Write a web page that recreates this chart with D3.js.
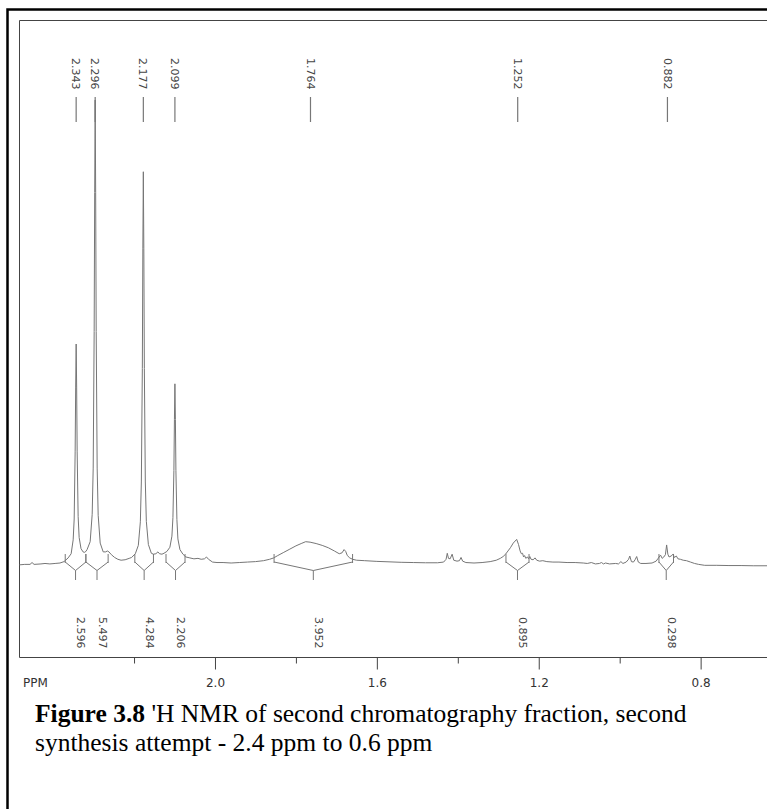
<!DOCTYPE html>
<html>
<head>
<meta charset="utf-8">
<script src="https://cdn.jsdelivr.net/npm/d3@7"></script>
<style>
  body { margin: 0; background: #fff; }
  svg { display: block; }
</style>
</head>
<body>
<div id="nmr-chart"></div>
<script>
// spectrum trace: [ppm, intensity]
var spectrum = [
  [2.483,-0.4],[2.470,-0.3],[2.457,-0.3],[2.452,0.1],[2.447,-0.3],[2.430,-0.2],[2.420,-0.1],
  [2.408,-0.2],[2.395,-0.1],[2.383,0.0],[2.373,0.3],[2.3628,1.1],[2.3554,2.0],[2.3504,5.0],
  [2.3479,9.5],[2.3455,24],[2.3442,38],[2.343,47.3],[2.3418,38],[2.3405,24],[2.3381,10],
  [2.3356,5.5],[2.331,3.1],[2.326,2.4],[2.3225,2.3],[2.319,2.5],[2.316,2.9],[2.3084,4.6],
  [2.3034,10.5],[2.3009,20.5],[2.2985,50],[2.2972,80],[2.296,100],[2.2948,80],[2.2935,50],
  [2.2911,20.5],[2.2886,10.3],[2.2836,4.3],[2.2762,2.4],[2.270,2.4],[2.266,2.6],[2.262,2.4],
  [2.256,1.8],[2.248,1.2],[2.240,0.8],[2.232,0.6],[2.222,0.7],[2.212,1.0],[2.206,1.2],
  [2.1968,2.0],[2.1894,3.8],[2.1844,8.9],[2.1819,17.5],[2.1795,42],[2.1782,68],[2.177,84.5],
  [2.1758,68],[2.1745,42],[2.1721,17.5],[2.1696,9],[2.1646,4],[2.1572,2.1],[2.152,1.9],
  [2.146,2.0],[2.141,2.4],[2.137,2.0],[2.131,1.9],[2.126,2.1],[2.1188,2.5],[2.1114,3.4],
  [2.1064,5.8],[2.1039,9.8],[2.1015,20],[2.1002,31],[2.099,38.7],[2.0978,31],[2.0965,20],
  [2.0941,9.4],[2.0916,5.2],[2.0866,2.9],[2.0792,1.9],[2.072,1.3],[2.062,1.1],[2.052,0.9],
  [2.042,1.0],[2.034,0.8],[2.026,0.9],[2.021,1.3],[2.016,0.8],[2.006,0.2],[1.995,0.1],
  [1.980,0.1],[1.960,0.0],[1.940,0.1],[1.920,0.2],[1.900,0.3],[1.880,0.5],[1.865,0.8],
  [1.855,1.1],[1.845,1.6],[1.830,2.3],[1.815,3.0],[1.800,3.7],[1.787,4.2],[1.776,4.6],
  [1.765,4.5],[1.750,4.2],[1.735,3.8],[1.720,3.3],[1.705,2.6],[1.693,2.0],[1.686,2.2],
  [1.681,2.9],[1.677,2.5],[1.673,1.6],[1.667,1.1],[1.660,0.8],[1.650,0.6],[1.630,0.5],
  [1.600,0.35],[1.570,0.25],[1.540,0.15],[1.510,0.1],[1.480,0.05],[1.450,0.05],[1.435,0.2],
  [1.429,0.8],[1.426,2.1],[1.423,1.0],[1.419,0.9],[1.414,1.9],[1.410,0.6],[1.402,0.4],
  [1.396,0.5],[1.392,1.2],[1.388,0.4],[1.380,0.1],[1.360,0.0],[1.340,0.1],[1.320,0.3],
  [1.305,0.6],[1.295,1.0],[1.288,1.4],[1.282,1.9],[1.276,2.6],[1.270,3.3],[1.263,4.3],
  [1.2545,5.1],[1.250,4.0],[1.246,2.6],[1.243,2.0],[1.240,2.1],[1.2375,1.3],[1.235,1.6],
  [1.232,1.0],[1.228,1.3],[1.225,0.9],[1.222,1.4],[1.219,0.8],[1.214,0.7],[1.209,1.1],
  [1.205,0.6],[1.198,0.4],[1.190,0.5],[1.180,0.3],[1.165,0.2],[1.150,0.2],[1.130,0.1],
  [1.110,0.1],[1.090,0.0],[1.080,-0.1],[1.070,0.1],[1.060,-0.2],[1.050,-0.1],[1.045,0.1],
  [1.040,-0.2],[1.035,0.0],[1.025,-0.2],[1.010,-0.1],[1.003,-0.2],[0.997,0.3],[0.992,-0.1],
  [0.984,0.2],[0.978,0.8],[0.975,1.5],[0.971,0.3],[0.966,0.2],[0.962,0.7],[0.958,1.4],
  [0.954,0.2],[0.948,-0.1],[0.935,-0.1],[0.920,0.0],[0.910,0.4],[0.905,1.0],[0.899,1.7],
  [0.895,1.0],[0.891,1.3],[0.887,1.8],[0.884,3.9],[0.881,1.9],[0.878,1.3],[0.873,1.5],
  [0.868,1.9],[0.865,1.2],[0.860,1.5],[0.856,0.9],[0.850,0.8],[0.843,0.6],[0.835,0.5],
  [0.825,0.2],[0.815,-0.1],[0.805,-0.3],[0.790,-0.5],[0.760,-0.5],[0.730,-0.55],
  [0.700,-0.55],[0.670,-0.6],[0.636,-0.6]
];

var peakLabels = [2.343, 2.296, 2.177, 2.099, 1.764, 1.252, 0.882];

var integralStart = [2.370, 2.319, 2.198, 2.121, 1.854, 1.281, 0.903];
var integralEnd   = [2.319, 2.264, 2.152, 2.074, 1.660, 1.224, 0.867];
var integralValues = ["2.596", "5.497", "4.284", "2.206", "3.952", "0.895", "0.298"];

var majorTicks = [2.0, 1.6, 1.2, 0.8];
var minorTicks = [2.2, 1.8, 1.4, 1.0];

var caption1Bold = "Figure 3.8";
var caption1 = " 'H NMR of second chromatography fraction, second";
var caption2 = "synthesis attempt - 2.4 ppm to 0.6 ppm";

var width = 767, height = 809;
var plotLeft = 19.5, plotTop = 20.5, plotBottom = 657.5;

var svg = d3.select("#nmr-chart")
  .append("svg")
    .attr("width", width)
    .attr("height", height);

svg.append("rect")
  .attr("width", width).attr("height", height)
  .attr("fill", "#fff");

// outer page border (runs off right and bottom)
svg.append("rect")
  .attr("x", 7.5).attr("y", 9.5)
  .attr("width", 900).attr("height", 900)
  .attr("fill", "none")
  .attr("stroke", "#000")
  .attr("stroke-width", 2.5);

var x = d3.scaleLinear()
  .domain([2.483, 0.636])
  .range([plotLeft, width]);

var y = d3.scaleLinear()
  .domain([0, 100])
  .range([563, 100]);

// inner frame
var frame = svg.append("g")
  .attr("stroke", "#444")
  .attr("stroke-width", 1);
frame.append("line").attr("x1", plotLeft).attr("x2", plotLeft).attr("y1", plotTop).attr("y2", plotBottom);
frame.append("line").attr("x1", plotLeft).attr("x2", width).attr("y1", plotTop).attr("y2", plotTop);
frame.append("line").attr("x1", plotLeft).attr("x2", width).attr("y1", plotBottom).attr("y2", plotBottom);

// axes
var minorAxis = svg.append("g")
  .attr("transform", "translate(0," + plotBottom + ")")
  .call(d3.axisBottom(x).tickValues(minorTicks).tickSize(6).tickFormat(""));
minorAxis.select(".domain").remove();

var majorAxis = svg.append("g")
  .attr("transform", "translate(0," + plotBottom + ")")
  .call(d3.axisBottom(x).tickValues(majorTicks).tickSize(12).tickPadding(9)
    .tickFormat(d3.format(".1f")));
majorAxis.select(".domain").remove();

svg.selectAll(".tick line").attr("stroke", "#444");
majorAxis.selectAll("text")
  .style("font-family", "'DejaVu Sans', Verdana, sans-serif")
  .style("font-size", "12px")
  .attr("fill", "#333");

svg.append("text")
  .attr("x", 23)
  .attr("y", plotBottom + 12 + 9)
  .attr("dy", "0.71em")
  .style("font-family", "'DejaVu Sans', Verdana, sans-serif")
  .style("font-size", "12px")
  .attr("fill", "#333")
  .text("PPM");

// spectrum trace
svg.append("path")
  .datum(spectrum)
  .attr("d", d3.line()
    .x(function(d) { return x(d[0]); })
    .y(function(d) { return y(d[1]); }))
  .attr("fill", "none")
  .attr("stroke", "#767676")
  .attr("stroke-width", 1);

// peak labels at the top
var peaks = svg.append("g")
  .selectAll("g")
  .data(peakLabels)
  .enter()
  .append("g")
    .attr("transform", function(d) { return "translate(" + x(d) + ",0)"; });

peaks.append("line")
  .attr("y1", 97).attr("y2", 122)
  .attr("stroke", "#777")
  .attr("stroke-width", 1.2);

peaks.append("text")
  .attr("transform", "translate(0,58) rotate(90)")
  .attr("dy", "0.35em")
  .style("font-family", "'DejaVu Sans', Verdana, sans-serif")
  .style("font-size", "11px")
  .attr("fill", "#444")
  .text(function(d) { return d.toFixed(3); });

// integral brackets
var y0 = y(0);
var integrals = svg.append("g")
  .attr("fill", "none")
  .attr("stroke", "#777")
  .attr("stroke-width", 1)
  .selectAll("g")
  .data(integralValues)
  .enter()
  .append("g");

integrals.append("path")
  .attr("d", function(d, i) {
    var a = x(integralStart[i]), b = x(integralEnd[i]), c = (a + b) / 2;
    return "M" + a + "," + (y0 - 9) + "V" + y0 +
           "M" + a + "," + (y0 - 1) + "L" + c + "," + (y0 + 7.5) + "L" + b + "," + (y0 - 1) +
           "M" + b + "," + (y0 - 9) + "V" + y0 +
           "M" + c + "," + (y0 + 7.5) + "V" + (y0 + 17);
  });

integrals.append("text")
  .attr("transform", function(d, i) {
    var c = (x(integralStart[i]) + x(integralEnd[i])) / 2;
    return "translate(" + c + ",617) rotate(90)";
  })
  .attr("dy", "-0.15em")
  .attr("stroke", "none")
  .attr("fill", "#444")
  .style("font-family", "'DejaVu Sans', Verdana, sans-serif")
  .style("font-size", "11px")
  .text(function(d) { return d; });

// caption
var cap = svg.append("g")
  .style("font-family", "'Liberation Serif', 'Times New Roman', serif")
  .style("font-size", "25.5px")
  .attr("fill", "#000");

var line1 = cap.append("text").attr("x", 35).attr("y", 722);
line1.append("tspan").attr("font-weight", "bold").text(caption1Bold);
line1.append("tspan").text(caption1);

cap.append("text").attr("x", 35).attr("y", 751).text(caption2);
</script>
</body>
</html>
